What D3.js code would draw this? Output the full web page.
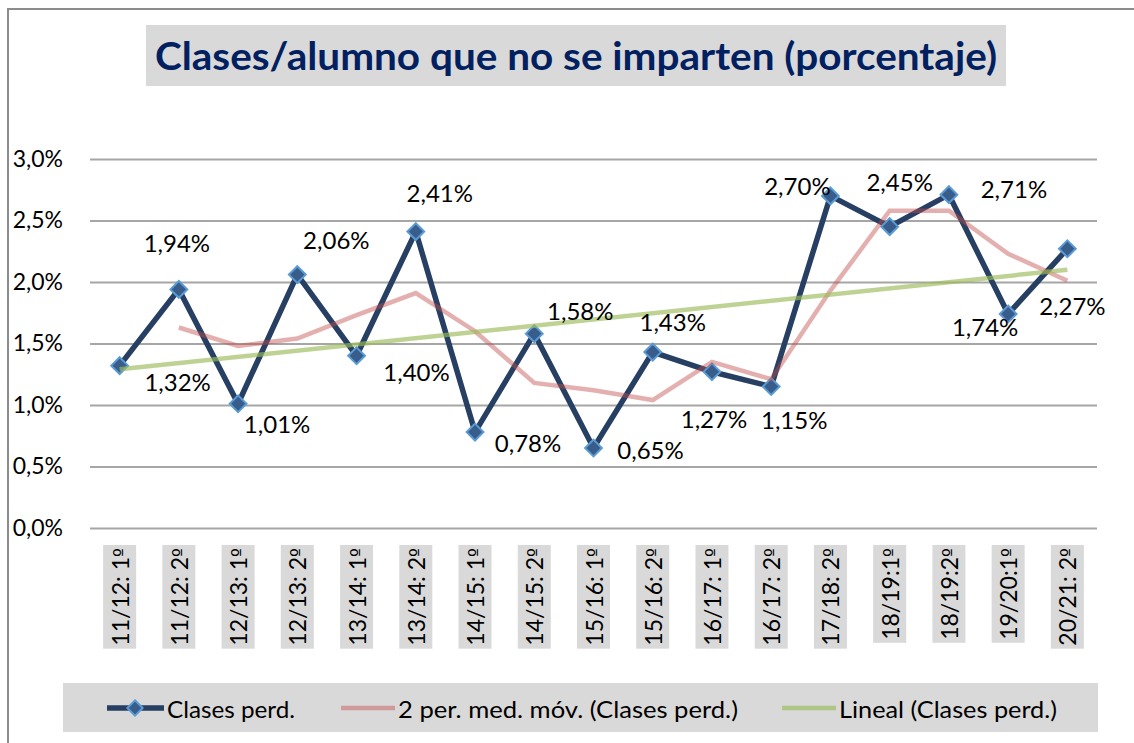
<!DOCTYPE html>
<html>
<head>
<meta charset="utf-8">
<script src="https://cdn.jsdelivr.net/npm/d3@7"></script>
<style>
  body { margin: 0; background: #fff; }
  text { font-family: Lato, "Open Sans", sans-serif; fill: #000; }
</style>
</head>
<body>
<svg id="chart" width="1134" height="743"></svg>
<script>
// datos
const categories = ["11/12: 1º", "11/12: 2º", "12/13: 1º", "12/13: 2º", "13/14: 1º", "13/14: 2º",
  "14/15: 1º", "14/15: 2º", "15/16: 1º", "15/16: 2º", "16/17: 1º", "16/17: 2º", "17/18: 2º",
  "18/19:1º", "18/19:2º", "19/20:1º", "20/21: 2º"];
const clasesPerd = [1.32, 1.94, 1.01, 2.06, 1.40, 2.41, 0.78, 1.58, 0.65, 1.43, 1.27, 1.15, 2.70, 2.45, 2.71, 1.74, 2.27];
const mediaMovil = [null, 1.63, 1.48, 1.54, 1.73, 1.91, 1.60, 1.18, 1.12, 1.04, 1.35, 1.21, 1.93, 2.58, 2.58, 2.23, 2.01];
const lineal = [1.29, 2.10]; // primera y última categoría
const yTicks = [0, 0.5, 1.0, 1.5, 2.0, 2.5, 3.0];

// desplazamiento de etiquetas (px) respecto a cada punto
const labelOffsets = [[58, 16], [-2, -47], [39, 20], [39, -35], [60, 16], [24, -39], [53, 10], [46, -23],
  [57, 1], [20, -31], [2, 47], [23, 33], [-33, -10], [10, -45], [65, -6], [-23, 13], [5, 57]];

const svg = d3.select("#chart");
const plotL = 90, plotR = 1097, plotT = 159, plotB = 528;

const x = d3.scaleBand().domain(categories).range([plotL, plotR]);
const xc = d => x(d) + x.bandwidth() / 2;
const y = d3.scaleLinear().domain([0, 3]).range([plotB, plotT]);
const fmt = v => d3.format(".1f")(v).replace(".", ",") + "%";
const fmt2 = v => d3.format(".2f")(v).replace(".", ",") + "%";

// marco
svg.append("rect")
  .attr("x", 8).attr("y", 9).attr("width", 1200).attr("height", 800)
  .attr("fill", "none").attr("stroke", "#8c8c8c").attr("stroke-width", 2);

// título
svg.append("rect")
  .attr("x", 146).attr("y", 25).attr("width", 860).attr("height", 61)
  .attr("fill", "#d9d9d9");
svg.append("text")
  .attr("x", 576).attr("y", 70)
  .attr("text-anchor", "middle")
  .attr("textLength", 842).attr("lengthAdjust", "spacingAndGlyphs")
  .style("font-size", "39px").style("font-weight", "bold").style("fill", "#002060")
  .text("Clases/alumno que no se imparten (porcentaje)");

// eje Y + rejilla
const yAxis = svg.append("g")
  .attr("transform", `translate(${plotL},0)`)
  .call(d3.axisLeft(y).tickValues(yTicks).tickFormat(fmt)
    .tickSizeInner(-(plotR - plotL)).tickSizeOuter(0).tickPadding(27));
yAxis.select(".domain").remove();
yAxis.selectAll(".tick line").attr("stroke", "#a6a6a6").attr("stroke-width", 2);
yAxis.selectAll(".tick text").style("font-size", "23px").style("fill", "#000");

// etiquetas X
const xl = svg.append("g").selectAll("g").data(categories).join("g")
  .attr("transform", d => `translate(${xc(d)},545) rotate(-90)`);
xl.append("rect").attr("fill", "#d9d9d9");
const xt = xl.append("text")
  .attr("x", -3).attr("y", 0)
  .attr("text-anchor", "end").attr("dominant-baseline", "central")
  .style("font-size", "23px");
xt.append("tspan").text(d => d.slice(0, -1));
xt.append("tspan").style("font-family", "'DejaVu Sans'").style("font-size", "19px").text(d => d.slice(-1));
xl.each(function () {
  const g = d3.select(this);
  const w = g.select("text").node().getComputedTextLength();
  g.select("rect").attr("x", -w - 6).attr("y", -16.5).attr("width", w + 6).attr("height", 33);
});

// serie principal
const line = d3.line().x((d, i) => xc(categories[i])).y(d => y(d));
svg.append("path")
  .attr("d", line(clasesPerd))
  .attr("fill", "none").attr("stroke", "#263f63").attr("stroke-width", 5.5)
  .attr("stroke-linejoin", "miter");
const diamond = d3.symbol().type(d3.symbolDiamond2).size(180);
svg.append("g").selectAll("path").data(clasesPerd).join("path")
  .attr("transform", (d, i) => `translate(${xc(categories[i])},${y(d)})`)
  .attr("d", diamond)
  .attr("fill", "#385d8a").attr("stroke", "#5b9bd5").attr("stroke-width", 2);

// media móvil
const lineMA = d3.line().defined(d => d != null).x((d, i) => xc(categories[i])).y(d => y(d));
svg.append("path")
  .attr("d", lineMA(mediaMovil))
  .attr("fill", "none").attr("stroke", "#c0504d").attr("stroke-opacity", 0.45).attr("stroke-width", 4.5);

// tendencia lineal
const tIdx = [0, categories.length - 1];
svg.append("path")
  .attr("d", d3.line().x((d, i) => xc(categories[tIdx[i]])).y(d => y(d))(lineal))
  .attr("fill", "none").attr("stroke", "#9bbb59").attr("stroke-opacity", 0.65).attr("stroke-width", 4.5);

// etiquetas de datos
svg.append("g").selectAll("text").data(clasesPerd).join("text")
  .attr("x", (d, i) => xc(categories[i]) + labelOffsets[i][0])
  .attr("y", (d, i) => y(d) + labelOffsets[i][1])
  .attr("text-anchor", "middle").attr("dominant-baseline", "central")
  .style("font-size", "24px")
  .text(fmt2);

// leyenda
const lg = svg.append("g");
lg.append("rect").attr("x", 63).attr("y", 683).attr("width", 1035).attr("height", 49).attr("fill", "#d9d9d9");
const ly = 708;
lg.append("line").attr("x1", 107).attr("x2", 164).attr("y1", ly).attr("y2", ly)
  .attr("stroke", "#263f63").attr("stroke-width", 5.5);
lg.append("path").attr("transform", `translate(135,${ly})`)
  .attr("d", d3.symbol().type(d3.symbolDiamond2).size(150))
  .attr("fill", "#385d8a").attr("stroke", "#5b9bd5").attr("stroke-width", 2);
lg.append("line").attr("x1", 341).attr("x2", 395).attr("y1", ly).attr("y2", ly)
  .attr("stroke", "#c0504d").attr("stroke-opacity", 0.45).attr("stroke-width", 4.5);
lg.append("line").attr("x1", 782).attr("x2", 836).attr("y1", ly).attr("y2", ly)
  .attr("stroke", "#9bbb59").attr("stroke-opacity", 0.65).attr("stroke-width", 4.5);
const legendTexts = [[167, 128, "Clases perd."], [398, 340, "2 per. med. móv. (Clases perd.)"], [839, 218, "Lineal (Clases perd.)"]];
lg.selectAll("text.lt").data(legendTexts).join("text")
  .attr("class", "lt")
  .attr("x", d => d[0]).attr("y", ly)
  .attr("dominant-baseline", "central")
  .attr("textLength", d => d[1]).attr("lengthAdjust", "spacingAndGlyphs")
  .style("font-size", "24px")
  .text(d => d[2]);
</script>
</body>
</html>
